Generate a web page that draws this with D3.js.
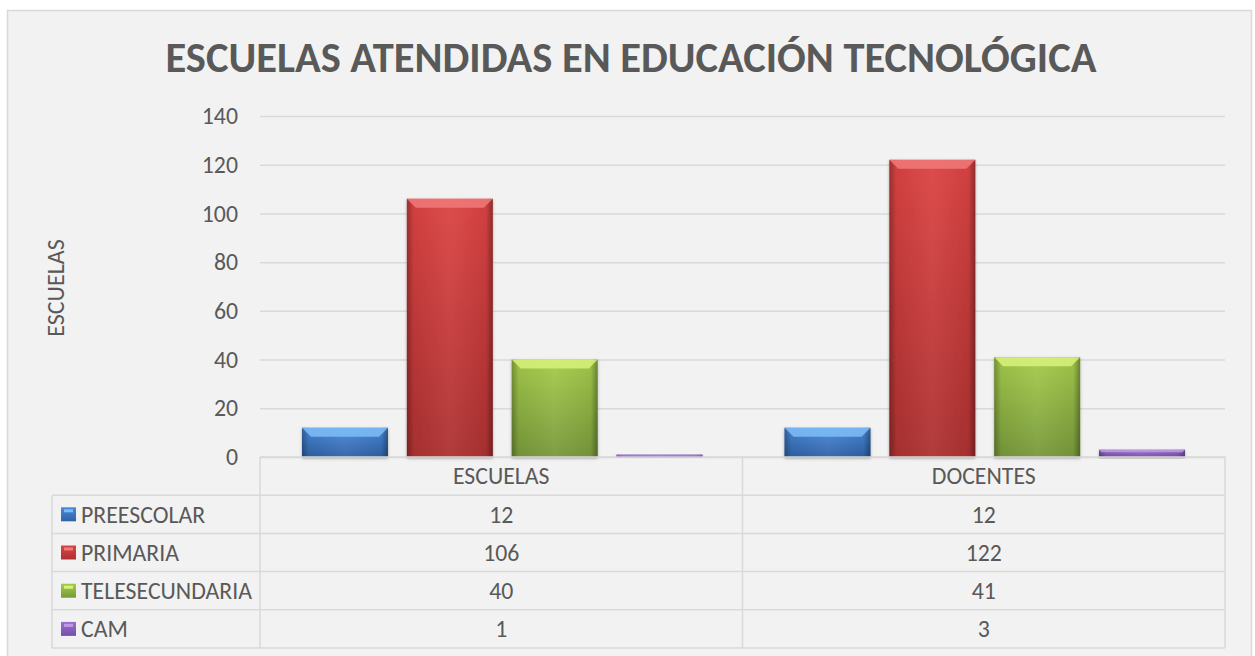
<!DOCTYPE html>
<html lang="es">
<head>
<meta charset="UTF-8">
<title>Escuelas atendidas</title>
<script src="https://cdn.jsdelivr.net/npm/d3@7"></script>
<style>
  body { margin: 0; background: #fff; }
  text { font-family: Carlito, Lato, "Noto Sans", sans-serif; fill: #595959; }
</style>
</head>
<body>
<script>
// datos
var categories = ["ESCUELAS", "DOCENTES"];
var series = ["PREESCOLAR", "PRIMARIA", "TELESECUNDARIA", "CAM"];
var preescolar = [12, 12];
var primaria = [106, 122];
var telesecundaria = [40, 41];
var cam = [1, 3];
var yTicks = [0, 20, 40, 60, 80, 100, 120, 140];

var values = [preescolar, primaria, telesecundaria, cam];
// colores: bevel, arriba, abajo
var colors = [
  ["#7dbdf7", "#4a8ad8", "#2f62a6"],
  ["#f07a7a", "#dc4343", "#ad3131"],
  ["#d8f27a", "#a6cc4c", "#77983a"],
  ["#bd9ae6", "#9a70cf", "#7550a8"]
];

var W = 1255, H = 656;
var plotLeft = 260, plotRight = 1225, plotTop = 116, zeroY = 457;
var rowH = 38.2;
var fs = "23.8px";

var svg = d3.select("body").append("svg").attr("width", W).attr("height", H);
var defs = svg.append("defs");

colors.forEach(function (c, i) {
  var g = defs.append("linearGradient").attr("id", "body" + i)
    .attr("x1", 0).attr("y1", 0).attr("x2", 0).attr("y2", 1);
  g.append("stop").attr("offset", "0%").attr("stop-color", c[1]);
  g.append("stop").attr("offset", "100%").attr("stop-color", c[2]);
});
var side = defs.append("linearGradient").attr("id", "side")
  .attr("x1", 0).attr("y1", 0).attr("x2", 1).attr("y2", 0);
side.append("stop").attr("offset", "0%").attr("stop-color", "#000").attr("stop-opacity", 0.3);
side.append("stop").attr("offset", "8%").attr("stop-color", "#000").attr("stop-opacity", 0.05);
side.append("stop").attr("offset", "50%").attr("stop-color", "#fff").attr("stop-opacity", 0.05);
side.append("stop").attr("offset", "92%").attr("stop-color", "#000").attr("stop-opacity", 0.05);
side.append("stop").attr("offset", "100%").attr("stop-color", "#000").attr("stop-opacity", 0.35);
var sh = defs.append("filter").attr("id", "shadow").attr("x", "-10%").attr("y", "-10%").attr("width", "120%").attr("height", "130%");
sh.append("feDropShadow").attr("dx", 0).attr("dy", 1.5).attr("stdDeviation", 1.5)
  .attr("flood-color", "#000").attr("flood-opacity", 0.3);

// fondo
svg.append("rect").attr("x", 7.5).attr("y", 10.5).attr("width", 1244).attr("height", 660)
  .attr("fill", "#f2f2f2").attr("stroke", "#d9d9d9").attr("stroke-width", 1.5);

svg.append("text").attr("x", 631).attr("y", 72).attr("text-anchor", "middle")
  .style("font-size", "42.5px").style("font-weight", "bold")
  .text("ESCUELAS ATENDIDAS EN EDUCACIÓN TECNOLÓGICA");

var y = d3.scaleLinear().domain([0, 140]).range([zeroY, plotTop]);
var x0 = d3.scaleBand().domain(categories).range([plotLeft, plotRight]);
var x1 = d3.scaleBand().domain(series).range([42, x0.bandwidth() - 40]).paddingInner(0.18);

// rejilla
var yAxis = svg.append("g").attr("transform", "translate(" + plotLeft + ",0)")
  .call(d3.axisLeft(y).tickValues(yTicks).tickSize(-(plotRight - plotLeft)).tickPadding(22));
yAxis.select(".domain").remove();
yAxis.selectAll(".tick line").attr("stroke", "#d9d9d9").attr("stroke-width", 1.5);
yAxis.selectAll(".tick text").style("font-size", fs).attr("fill", "#595959")
  .style("font-family", "Carlito, Lato, sans-serif");

svg.append("text").attr("transform", "translate(64,288) rotate(-90)")
  .attr("text-anchor", "middle").style("font-size", "24px").text("ESCUELAS");

// barras
var groups = svg.selectAll("g.cat").data(categories).enter().append("g")
  .attr("class", "cat").attr("transform", function (d) { return "translate(" + x0(d) + ",0)"; });

groups.each(function (cat, ci) {
  var g = d3.select(this);
  series.forEach(function (s, si) {
    var v = values[si][ci];
    var bx = x1(s), bw = x1.bandwidth();
    var by = y(v), bh = zeroY - by;
    var bar = g.append("g").attr("filter", "url(#shadow)");
    bar.append("rect").attr("x", bx).attr("y", by).attr("width", bw).attr("height", bh)
      .attr("fill", "url(#body" + si + ")");
    bar.append("rect").attr("x", bx).attr("y", by).attr("width", bw).attr("height", bh)
      .attr("fill", "url(#side)");
    var bev = Math.min(9, bh / 3);
    bar.append("path")
      .attr("d", "M" + bx + "," + by + "H" + (bx + bw) + "L" + (bx + bw - bev) + "," + (by + bev)
        + "H" + (bx + bev) + "Z")
      .attr("fill", colors[si][0]).attr("opacity", 0.85);
  });
});

// tabla de datos
var grid = "#d9d9d9";
var tLeft = 52, tBottom = zeroY + rowH * 5;
var t = svg.append("g");
// lineas horizontales
d3.range(6).forEach(function (r) {
  var ly = zeroY + rowH * r;
  t.append("line").attr("x1", r === 0 ? plotLeft : tLeft).attr("x2", plotRight)
    .attr("y1", ly).attr("y2", ly).attr("stroke", grid).attr("stroke-width", 1.5);
});
// lineas verticales
[plotLeft, x0("DOCENTES"), plotRight].forEach(function (lx) {
  t.append("line").attr("x1", lx).attr("x2", lx).attr("y1", zeroY).attr("y2", tBottom)
    .attr("stroke", grid).attr("stroke-width", 1.5);
});
t.append("line").attr("x1", tLeft).attr("x2", tLeft).attr("y1", zeroY + rowH).attr("y2", tBottom)
  .attr("stroke", grid).attr("stroke-width", 1.5);

categories.forEach(function (c) {
  t.append("text").attr("x", x0(c) + x0.bandwidth() / 2).attr("y", zeroY + rowH / 2)
    .attr("dy", "0.35em").attr("text-anchor", "middle").style("font-size", fs).text(c);
});

series.forEach(function (s, si) {
  var ry = zeroY + rowH * (si + 1);
  t.append("rect").attr("x", 61).attr("y", ry + rowH / 2 - 7).attr("width", 15).attr("height", 14)
    .attr("fill", "url(#body" + si + ")");
  t.append("rect").attr("x", 64).attr("y", ry + rowH / 2 - 5).attr("width", 9).attr("height", 3)
    .attr("fill", colors[si][0]);
  t.append("text").attr("x", 81).attr("y", ry + rowH / 2).attr("dy", "0.35em")
    .style("font-size", fs).text(s);
  categories.forEach(function (c, ci) {
    t.append("text").attr("x", x0(c) + x0.bandwidth() / 2).attr("y", ry + rowH / 2)
      .attr("dy", "0.35em").attr("text-anchor", "middle").style("font-size", fs)
      .text(values[si][ci]);
  });
});
</script>
</body>
</html>
